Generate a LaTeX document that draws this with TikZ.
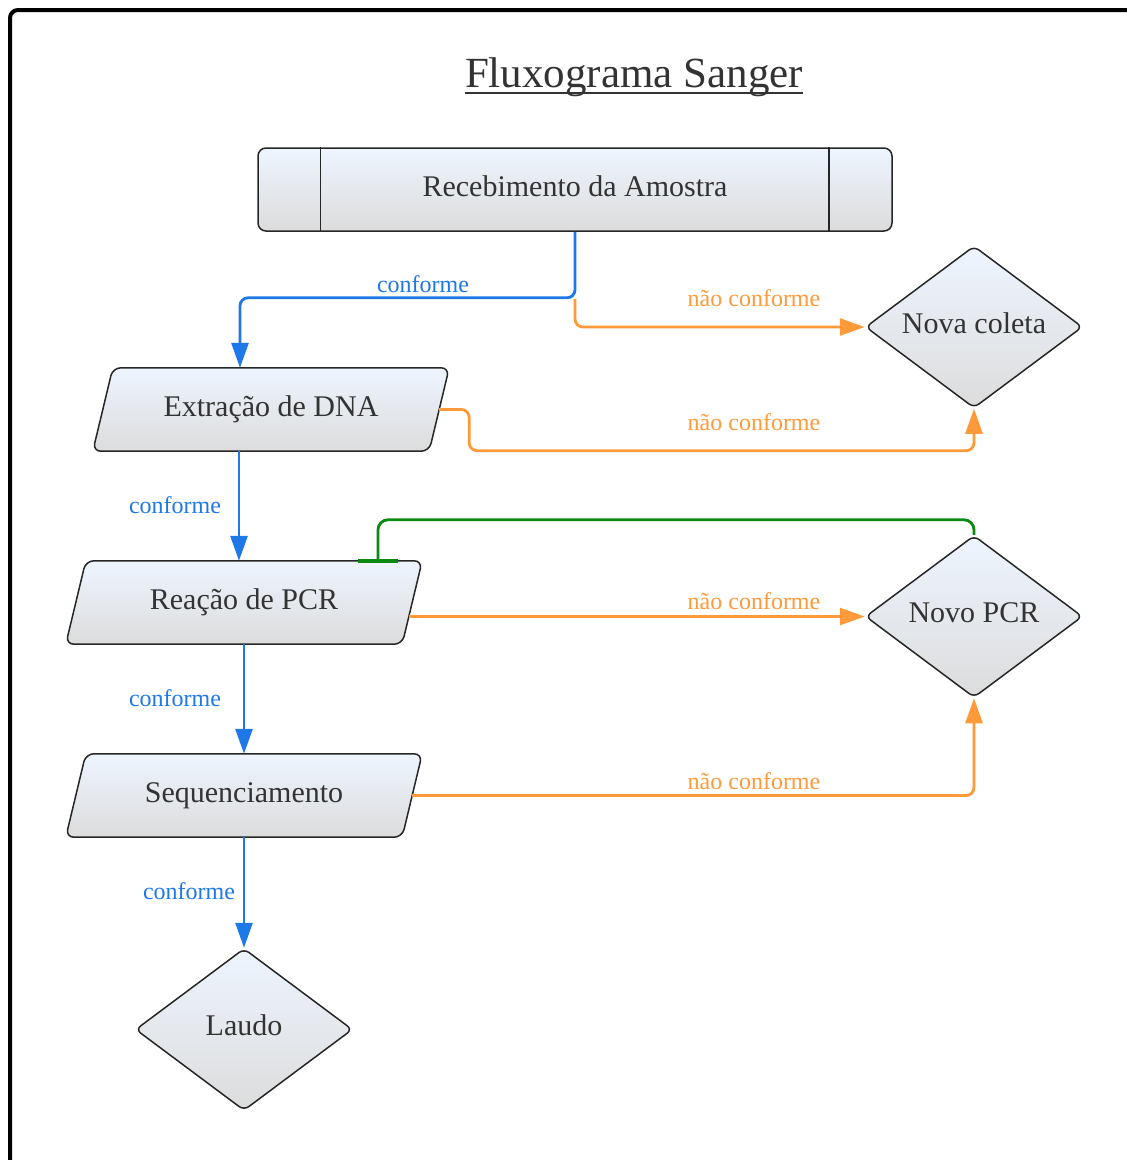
\documentclass[tikz,border=0pt]{standalone}
\usepackage{fontspec}
\setmainfont{Liberation Serif}
\usetikzlibrary{shapes.geometric,arrows.meta,calc,backgrounds}
\definecolor{cblue}{HTML}{1F78E8}
\definecolor{corange}{HTML}{FF9A3A}
\definecolor{cgreen}{HTML}{0A8A12}
\definecolor{ctext}{HTML}{333333}
\definecolor{cborder}{HTML}{262626}
\definecolor{ctop}{HTML}{EEF5FF}
\definecolor{cbot}{HTML}{DCDCDC}
\tikzset{
  shadebox/.style={draw=cborder, line width=1.5pt, top color=ctop, bottom color=cbot},
  box/.style={shadebox, text=ctext, font=\fontsize{30}{34}\selectfont, inner sep=0pt,
    text height=20pt, text depth=6pt},
  procbox/.style={box, rectangle, rounded corners=8pt, minimum width=634pt, minimum height=83pt},
  iobox/.style={rectangle, text=ctext, font=\fontsize{30}{34}\selectfont, inner sep=0pt,
    text height=20pt, text depth=6pt, minimum width=356pt, minimum height=83pt},
  decbox/.style={box, diamond, aspect=1.34, rounded corners=6pt, minimum width=217pt,
    minimum height=162pt, text depth=8pt},
  paraline/.style={shadebox, rounded corners=8pt},
  yes/.style={draw=cblue, line width=2.8pt, rounded corners=8pt},
  no/.style={draw=corange, line width=2.8pt, rounded corners=8pt},
  redo/.style={draw=cgreen, line width=2.8pt, rounded corners=10pt},
  tip/.style={-{Triangle[length=25pt,width=17pt]}},
  lblue/.style={text=cblue, font=\fontsize{24}{28}\selectfont, inner sep=0pt},
  lorange/.style={text=corange, font=\fontsize{24}{28}\selectfont, inner sep=0pt},
}
\newcommand\parabox[1]{%
  \begin{pgfonlayer}{background}
  \shadedraw[paraline] (#1.south west) -- ($(#1.north west)+(20,0)$) -- (#1.north east)
     -- ($(#1.south east)+(-20,0)$) -- cycle;
  \end{pgfonlayer}}
\begin{document}
\begin{tikzpicture}[x=1pt,y=-1pt]
\clip (0,0) rectangle (1127,1160);
\begin{pgfonlayer}{background}
\fill[white] (0,0) rectangle (1127,1160);
\end{pgfonlayer}
\draw[line width=4pt, rounded corners=8pt] (10,10) rectangle (1200,1250);

\node[text=ctext, font=\fontsize{43}{48}\selectfont, inner sep=0pt, anchor=base] (title) at (634,87) {Fluxograma Sanger};
\draw[ctext, line width=2pt] ([yshift=-6pt]title.base west) -- ([yshift=-6pt]title.base east);

\node[procbox] (rec) at (575,189.5) {Recebimento da Amostra};
\draw[cborder, line width=1.5pt] ([xshift=63pt]rec.north west) -- ([xshift=63pt]rec.south west);
\draw[cborder, line width=1.5pt] ([xshift=-64pt]rec.north east) -- ([xshift=-64pt]rec.south east);

\node[decbox] (nova) at (974,327) {Nova coleta};
\node[iobox] (ext) at (271,409.5) {Extração de DNA};
\parabox{ext}
\node[iobox] (pcr) at (244,602.5) {Reação de PCR};
\parabox{pcr}
\node[decbox] (novopcr) at (974,616.5) {Novo PCR};
\node[iobox] (seq) at (244,795.5) {Sequenciamento};
\parabox{seq}
\node[decbox] (laudo) at (244,1029.5) {Laudo};

% Recebimento -> Extracao (conforme)
\coordinate (split) at ($(rec.south)+(0,67)$);
\draw[yes, tip] (rec.south) |- ($(ext.north)+(-31,-70)$) -- ([xshift=-31pt]ext.north);
\node[lblue, anchor=base] (l1) at (423,292) {conforme};
% Recebimento -> Nova coleta (nao conforme)
\draw[no, tip] (split) |- (nova.west);
\node[lorange, anchor=base] (l2) at (754,306) {não conforme};

% Extracao -> Nova coleta
\draw[no, tip] ([xshift=-10pt]ext.east) -- ++(30,0) |- ($(nova.south)+(0,42)$) -- (nova.south);
\node[lorange, anchor=base] (l3) at (754,430) {não conforme};

% Extracao -> PCR
\draw[yes, tip] ([xshift=-32pt]ext.south) -- ([xshift=-5pt]pcr.north);
\node[lblue, anchor=base] (l4) at (175,513) {conforme};

% PCR -> Novo PCR
\draw[no, tip] ([xshift=-13pt]pcr.east |- novopcr.west) -- (novopcr.west);
\node[lorange, anchor=base] (l5) at (754,609) {não conforme};

% Novo PCR -> PCR (green, bar)
\draw[redo, -{Bar[width=40pt, line width=4pt]}] (novopcr.north) |- ($(pcr.north)+(134,-41)$) -- ([xshift=134pt,yshift=-2pt]pcr.north);

% PCR -> Sequenciamento
\draw[yes, tip] (pcr.south) -- (seq.north);
\node[lblue, anchor=base] (l6) at (175,706) {conforme};

% Sequenciamento -> Novo PCR
\draw[no, tip] ([xshift=-10pt]seq.east) -| (novopcr.south);
\node[lorange, anchor=base] (l7) at (754,789) {não conforme};

% Sequenciamento -> Laudo
\draw[yes, tip] (seq.south) -- (laudo.north);
\node[lblue, anchor=base] (l8) at (189,899) {conforme};
\end{tikzpicture}
\end{document}
